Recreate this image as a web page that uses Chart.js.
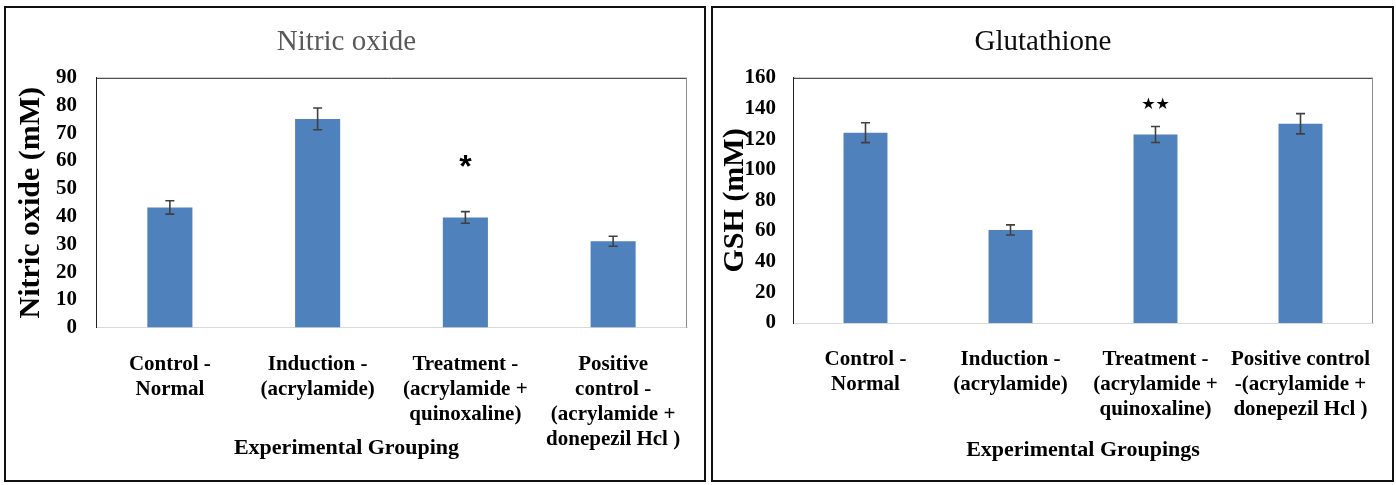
<!DOCTYPE html>
<html>
<head>
<meta charset="utf-8">
<script src="https://cdn.jsdelivr.net/npm/chart.js@4.4.1/dist/chart.umd.min.js"></script>
<style>
  html, body { margin: 0; padding: 0; background: #fff; }
  body { width: 1396px; height: 485px; position: relative; overflow: hidden; }
  .panel { position: absolute; top: 6px; height: 472px; border: 2px solid #111; background: #fff; }
  #p1 { left: 4px; width: 698px; }
  #p2 { left: 711px; width: 679px; }
  canvas { display: block; }
</style>
</head>
<body>
<div class="panel" id="p1"><canvas id="c1" width="698" height="472"></canvas></div>
<div class="panel" id="p2"><canvas id="c2" width="679" height="472"></canvas></div>
<script>
// Experimental groups (multi-line category labels)
const groupsNO = [
  ['Control -', 'Normal'],
  ['Induction -', '(acrylamide)'],
  ['Treatment -', '(acrylamide +', 'quinoxaline)'],
  ['Positive', 'control -', '(acrylamide +', 'donepezil Hcl )']
];
const groupsGSH = [
  ['Control -', 'Normal'],
  ['Induction -', '(acrylamide)'],
  ['Treatment -', '(acrylamide +', 'quinoxaline)'],
  ['Positive control', '-(acrylamide +', 'donepezil Hcl )']
];

// Nitric oxide (mM), mean and error
const nitricOxide    = [43.3, 75.2, 39.7, 31.1];
const nitricOxideErr = [2.4, 3.9, 2.1, 1.8];

// Glutathione GSH (mM), mean and error
const glutathione    = [124.2, 60.7, 123.0, 130.0];
const glutathioneErr = [6.5, 3.3, 5.2, 6.6];

// Significance marks per group
const sigNO  = ['', '', '*', ''];
const sigGSH = ['', '', '\u2605\u2605', ''];

// Y tick values
const ticksNO  = [0, 10, 20, 30, 40, 50, 60, 70, 80, 90];
const ticksGSH = [0, 20, 40, 60, 80, 100, 120, 140, 160];

const SERIF = "'Liberation Serif', 'Times New Roman', serif";
const BAR = '#4f81bd';

// Error bars drawn from dataset.errors through the y scale
const errorBars = {
  id: 'errorBars',
  afterDatasetsDraw(chart) {
    const ctx = chart.ctx;
    const y = chart.scales.y;
    chart.data.datasets.forEach((ds, di) => {
      const meta = chart.getDatasetMeta(di);
      if (!ds.errors) return;
      ctx.save();
      ctx.strokeStyle = '#404040';
      ctx.lineWidth = 1.6;
      meta.data.forEach((bar, i) => {
        const v = ds.data[i], e = ds.errors[i];
        const top = y.getPixelForValue(v + e);
        const bot = y.getPixelForValue(v - e);
        const x = bar.x, cw = 4.5;
        ctx.beginPath();
        ctx.moveTo(x, top); ctx.lineTo(x, bot);
        ctx.moveTo(x - cw, top); ctx.lineTo(x + cw, top);
        ctx.moveTo(x - cw, bot); ctx.lineTo(x + cw, bot);
        ctx.stroke();
      });
      ctx.restore();
    });
  }
};

// Significance symbols above the chosen groups
const sigMarks = {
  id: 'sigMarks',
  afterDatasetsDraw(chart, args, opts) {
    if (!opts.marks) return;
    const ctx = chart.ctx;
    const meta = chart.getDatasetMeta(0);
    const y = chart.scales.y;
    ctx.save();
    ctx.fillStyle = '#000';
    ctx.font = opts.font;
    ctx.textAlign = 'center';
    ctx.textBaseline = 'middle';
    opts.marks.forEach((m, i) => {
      if (!m) return;
      ctx.fillText(m, meta.data[i].x, y.getPixelForValue(opts.at));
    });
    ctx.restore();
  }
};

// Top and right edges of the plot frame
const plotFrame = {
  id: 'plotFrame',
  afterDraw(chart) {
    const { ctx, chartArea: a } = chart;
    ctx.save();
    ctx.lineWidth = 1;
    ctx.strokeStyle = '#222';
    ctx.beginPath();
    ctx.moveTo(a.left, a.top + 0.5); ctx.lineTo(a.right, a.top + 0.5);
    ctx.stroke();
    ctx.strokeStyle = '#8c8c8c';
    ctx.beginPath();
    ctx.moveTo(a.right - 0.5, a.top); ctx.lineTo(a.right - 0.5, a.bottom);
    ctx.stroke();
    ctx.restore();
  }
};

function makeChart(id, cfg) {
  return new Chart(document.getElementById(id), {
    type: 'bar',
    data: {
      labels: cfg.labels,
      datasets: [{
        data: cfg.values,
        errors: cfg.errors,
        backgroundColor: BAR,
        borderWidth: 0,
        categoryPercentage: 1,
        barPercentage: cfg.barPct
      }]
    },
    options: {
      responsive: false,
      animation: false,
      devicePixelRatio: 1,
      layout: { padding: { left: 0, right: cfg.padRight, top: 0, bottom: 0 } },
      plugins: {
        legend: { display: false },
        tooltip: { enabled: false },
        title: {
          display: true,
          text: cfg.title,
          color: cfg.titleColor,
          font: { family: SERIF, size: 29, weight: 'normal' },
          padding: { top: 17, bottom: 18 }
        },
        subtitle: cfg.subtitle,
        sigMarks: { marks: cfg.marks, at: cfg.markAt, font: cfg.markFont }
      },
      scales: {
        x: {
          grid: { display: false, drawTicks: false },
          border: { display: true, color: '#d9d9d9', width: 1 },
          ticks: {
            color: '#000',
            padding: cfg.xTickPad,
            maxRotation: 0,
            autoSkip: false,
            font: { family: SERIF, size: 21, weight: 'bold', lineHeight: 1.2 }
          },
          title: cfg.xTitle,
          afterFit(s) {
            s.height = cfg.xHeight;
            // labels sit inside the category slots; no extra side room needed
            s.paddingLeft = 0;
            s.paddingRight = 0;
          }
        },
        y: {
          min: 0,
          max: cfg.yMax,
          grid: { display: false, drawTicks: false },
          border: { display: true, color: '#222', width: 1 },
          afterBuildTicks(s) { s.ticks = cfg.ticks.map(v => ({ value: v })); },
          ticks: {
            color: '#000',
            padding: cfg.yTickPad,
            autoSkip: false,
            font: { family: SERIF, size: 21, weight: 'bold' }
          },
          title: {
            display: true,
            text: cfg.yTitle,
            color: '#000',
            font: { family: SERIF, size: 30, weight: 'bold', lineHeight: 1.2 },
            padding: { top: cfg.yTitlePad, bottom: 0 }
          },
          afterFit(s) { s.width = cfg.yWidth; }
        }
      }
    },
    plugins: [errorBars, sigMarks, plotFrame]
  });
}

makeChart('c1', {
  labels: groupsNO,
  values: nitricOxide,
  errors: nitricOxideErr,
  barPct: 0.305,
  padRight: 17,
  title: 'Nitric oxide',
  titleColor: '#595959',
  // axis caption centred on the panel; its box overlaps the last label line
  subtitle: {
    display: true,
    position: 'bottom',
    text: 'Experimental Grouping',
    color: '#000',
    font: { family: SERIF, size: 22, weight: 'bold', lineHeight: 1.2 },
    padding: { top: -18, bottom: 18 }
  },
  xTitle: { display: false },
  xHeight: 126,
  xTickPad: 24,
  yMax: 90,
  ticks: ticksNO,
  yTickPad: 19,
  yTitle: 'Nitric oxide (mM)',
  yTitlePad: 7,
  yWidth: 90,
  marks: sigNO,
  markAt: 57.6,
  markFont: "bold 32px 'Liberation Sans', Arial, sans-serif"
});

makeChart('c2', {
  labels: groupsGSH,
  values: glutathione,
  errors: glutathioneErr,
  barPct: 0.303,
  padRight: 19,
  title: 'Glutathione',
  titleColor: '#0d0d0d',
  subtitle: { display: false },
  xTitle: {
    display: true,
    text: 'Experimental Groupings',
    color: '#000',
    font: { family: SERIF, size: 22, weight: 'bold', lineHeight: 1.2 },
    padding: { top: 0, bottom: 16 }
  },
  xHeight: 157,
  xTickPad: 24,
  yMax: 160,
  ticks: ticksGSH,
  yTickPad: 17,
  yTitle: 'GSH (mM)',
  yTitlePad: 4,
  yWidth: 80,
  marks: sigGSH,
  markAt: 142.6,
  markFont: "16px 'DejaVu Sans', sans-serif"
});
</script>
</body>
</html>
